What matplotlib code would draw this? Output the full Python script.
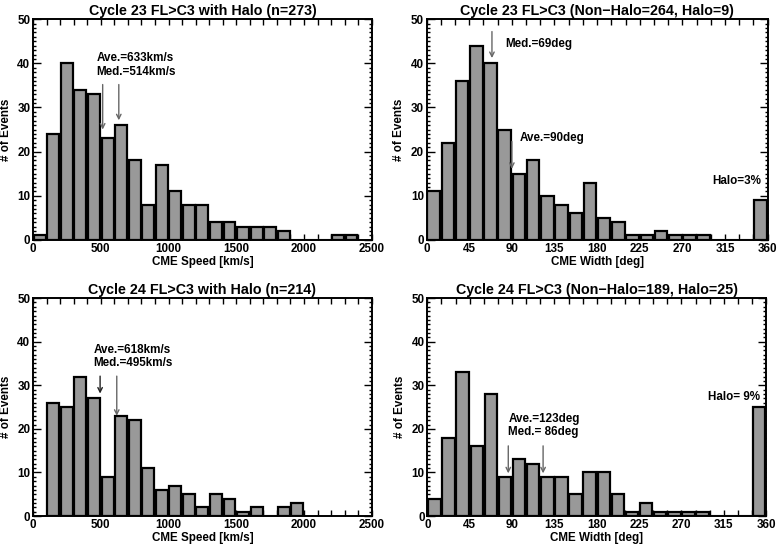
import numpy as np
import matplotlib
matplotlib.use("Agg")
from matplotlib import pyplot as plt
from matplotlib.ticker import MultipleLocator

plt.rcParams['font.family'] = ['Liberation Sans', 'DejaVu Sans']
plt.rcParams['font.weight'] = 'bold'

# Cycle 23 speed histogram (bins of 100 km/s starting at 0)
speed23_edges = np.arange(0, 2400, 100)
speed23_counts = [1, 24, 40, 34, 33, 23, 26, 18, 8, 17, 11, 8, 8, 4, 4, 3, 3, 3, 2, 0, 0, 0, 1, 1]

# Cycle 24 speed histogram (bins of 100 km/s starting at 100)
speed24_edges = np.arange(100, 2000, 100)
speed24_counts = [26, 25, 32, 27, 9, 23, 22, 11, 6, 7, 5, 2, 5, 4, 1, 2, 0, 2, 3]

# width histograms (bins of 15 deg), last bin = halo
width_edges = np.arange(0, 360, 15)
width23_counts = [11, 22, 36, 44, 40, 25, 15, 18, 10, 8, 6, 13, 5, 4, 1, 1, 2, 1, 1, 1, 0, 0, 0, 9]
width24_counts = [4, 18, 33, 16, 28, 9, 13, 12, 9, 9, 5, 10, 10, 5, 1, 3, 1, 1, 1, 1, 0, 0, 0, 25]

titles = ["Cycle 23 FL>C3 with Halo (n=273)",
          "Cycle 23 FL>C3 (Non\u2212Halo=264, Halo=9)",
          "Cycle 24 FL>C3 with Halo (n=214)",
          "Cycle 24 FL>C3 (Non\u2212Halo=189, Halo=25)"]

FS = 8.4


def draw_hist(ax, edges, counts, binw):
    counts = np.array(counts)
    ec = ['black' if c > 0 else '#999999' for c in counts]
    ax.bar(edges + binw * 0.06, counts, width=binw * 0.88, align='edge',
           color='#999999', edgecolor=ec, linewidth=1.6, zorder=2)


def style_axes(ax, xmax, xmajor, xminor, xlabel):
    ax.set_xlim(0, xmax)
    ax.set_ylim(0, 50)
    ax.xaxis.set_major_locator(MultipleLocator(xmajor))
    ax.xaxis.set_minor_locator(MultipleLocator(xminor))
    ax.yaxis.set_major_locator(MultipleLocator(10))
    ax.yaxis.set_minor_locator(MultipleLocator(1))
    ax.tick_params(axis='both', which='both', direction='in', top=True, right=True,
                   labelsize=FS, width=1.0, pad=2)
    ax.tick_params(axis='x', which='both', length=4)
    ax.tick_params(axis='y', which='major', length=6)
    ax.tick_params(axis='y', which='minor', length=2.5)
    for s in ax.spines.values():
        s.set_linewidth(1.4)
    ax.set_xlabel(xlabel, fontsize=FS, fontweight='bold', labelpad=1)
    ax.set_ylabel("# of Events", fontsize=FS, fontweight='bold', labelpad=4)


def arrow(ax, x, y0, y1, color='#666666'):
    ax.annotate('', xy=(x, y1), xytext=(x, y0),
                arrowprops=dict(arrowstyle='->', color=color, lw=1.0, mutation_scale=8,
                                shrinkA=0, shrinkB=0), zorder=3)


fig = plt.figure(figsize=(7.77, 5.49), dpi=100)
ax1 = fig.add_axes([0.0425, 0.563, 0.436, 0.402])
ax2 = fig.add_axes([0.549, 0.563, 0.439, 0.402])
ax3 = fig.add_axes([0.0425, 0.060, 0.436, 0.397])
ax4 = fig.add_axes([0.550, 0.060, 0.436, 0.397])

# panel 1
draw_hist(ax1, speed23_edges, speed23_counts, 100)
style_axes(ax1, 2500, 500, 100, "CME Speed [km/s]")
ax1.text(470, 41.3, "Ave.=633km/s", fontsize=FS, fontweight='bold', va='center')
ax1.text(470, 38.1, "Med.=514km/s", fontsize=FS, fontweight='bold', va='center')
arrow(ax1, 514, 35.2, 25.0)
arrow(ax1, 633, 35.2, 27.1)

# panel 2
draw_hist(ax2, width_edges, width23_counts, 15)
style_axes(ax2, 360, 45, 15, "CME Width [deg]")
ax2.text(83, 44.4, "Med.=69deg", fontsize=FS, fontweight='bold', va='center')
ax2.text(98, 23.2, "Ave.=90deg", fontsize=FS, fontweight='bold', va='center')
ax2.text(302, 13.4, "Halo=3%", fontsize=FS, fontweight='bold', va='center')
arrow(ax2, 69, 47.2, 41.2)
arrow(ax2, 90, 22.3, 16.1)

# panel 3
draw_hist(ax3, speed24_edges, speed24_counts, 100)
style_axes(ax3, 2500, 500, 100, "CME Speed [km/s]")
ax3.text(445, 38.0, "Ave.=618km/s", fontsize=FS, fontweight='bold', va='center')
ax3.text(445, 35.0, "Med.=495km/s", fontsize=FS, fontweight='bold', va='center')
arrow(ax3, 495, 32.1, 28.1, color='#222222')
arrow(ax3, 618, 32.1, 23.0)

# panel 4
draw_hist(ax4, width_edges, width24_counts, 15)
style_axes(ax4, 360, 45, 15, "CME Width [deg]")
ax4.text(86, 22.3, "Ave.=123deg", fontsize=FS, fontweight='bold', va='center')
ax4.text(86, 19.2, "Med.= 86deg", fontsize=FS, fontweight='bold', va='center')
ax4.text(298.6, 27.4, "Halo= 9%", fontsize=FS, fontweight='bold', va='center')
arrow(ax4, 86, 16.1, 9.8)
arrow(ax4, 123, 16.1, 9.8)

for ax, t in zip([ax1, ax2, ax3, ax4], titles):
    ax.set_title(t, fontsize=10.3, fontweight='bold', pad=3)

fig.savefig("out.png", dpi=100)
